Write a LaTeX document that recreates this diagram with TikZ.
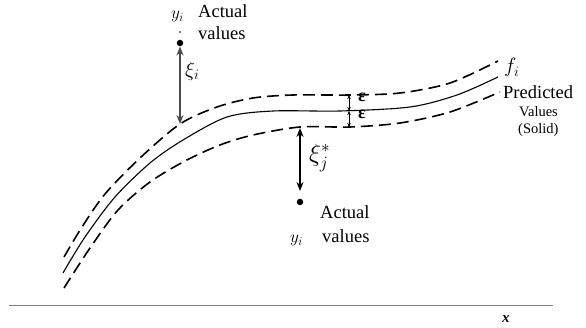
\documentclass[tikz,border=0pt]{standalone}
\usepackage{fontspec}
\setmainfont{Liberation Serif}
\usetikzlibrary{arrows.meta}
\begin{document}
\begin{tikzpicture}[x=1pt,y=-1pt,
  dashcurve/.style={line width=1.6pt, dash pattern=on 12pt off 6pt},
  solidcurve/.style={line width=1.1pt},
  dbl/.style={line width=1.4pt, {Stealth[length=9pt,width=7pt]}-{Stealth[length=9pt,width=7pt]}},
  smalldbl/.style={line width=0.9pt, {Stealth[length=4pt,width=3.5pt]}-{Stealth[length=4pt,width=3.5pt]}},
  dot/.style={circle, fill=black, inner sep=0pt, minimum size=6.5pt},
  lbl/.style={inner sep=0pt, font=\fontsize{18.5}{22}\selectfont},
  slbl/.style={inner sep=0pt, font=\fontsize{14.5}{16}\selectfont},
  epslbl/.style={inner sep=0pt, text height=0.45em, text depth=0pt, font=\fontsize{18}{18}\selectfont\bfseries},
]
\useasboundingbox (0,0) rectangle (586,328);

% curves
\draw[dashcurve] plot[smooth] coordinates {(64,257) (82,227) (105,194) (140,158) (180,124) (217,107) (253,98) (293,95) (350,95) (400,93) (450,83) (498,61)};
\draw[solidcurve] plot[smooth] coordinates {(63,273) (85,237) (115,197) (150,163) (183,140) (227,117) (273,111) (340,111) (410,107) (457,95) (498,77)};
\draw[dashcurve] plot[smooth] coordinates {(64,288) (90,248) (118,210) (150,182) (185,161) (220,145) (253,135) (300,127) (350,127) (400,123) (450,112) (500,92)};

% axis
\coordinate (axl) at (9,306);
\coordinate (axr) at (553,306);
\draw[gray, line width=1pt] (axl) -- (axr);
\node[inner sep=0pt, anchor=base west, font=\fontsize{15}{15}\selectfont\bfseries\itshape] (xl) at (502,323) {x};

% upper actual value
\node[dot] (d1) at (180,43) {};
\node[circle, fill=black, inner sep=0pt, minimum size=1.8pt] (tiny) at (180,32) {};
\coordinate (u1) at (180,124);
\draw[dbl, draw=black!70, fill=black] (d1) -- (u1);
\node[inner sep=0pt, anchor=base west, font=\fontsize{18}{18}\selectfont] (yi1) at (171,19) {$y_i$};
\node[lbl, anchor=base west] (act1) at (198,18) {Actual};
\node[lbl, anchor=base west] (val1) at (198,40) {values};
\node[inner sep=0pt, anchor=west, font=\fontsize{22}{22}\selectfont] (xi) at (185,71) {$\xi_i$};

% lower actual value
\node[dot] (d2) at (300,202) {};
\coordinate (l1) at (300,128);
\coordinate (l2) at (300,191);
\draw[dbl] (l1) -- (l2);
\node[inner sep=0pt, anchor=base west, font=\fontsize{18}{18}\selectfont] (yi2) at (290,243) {$y_i$};
\node[lbl, anchor=base west] (act2) at (320,219) {Actual};
\node[lbl, anchor=base west] (val2) at (322,243) {values};
\node[inner sep=0pt, anchor=west, font=\fontsize{25}{25}\selectfont] (xij) at (309,158) {$\xi_j^*$};

% epsilon tube
\coordinate (e1) at (349,95);
\coordinate (e2) at (349,111);
\coordinate (e3) at (349,127);
\draw[smalldbl] (e1) -- (e2);
\draw[smalldbl] (e2) -- (e3);
\node[epslbl] (eps1) at (362,99) {ε};
\node[epslbl] (eps2) at (362,116) {ε};

% right labels
\node[inner sep=0pt, anchor=base west, font=\fontsize{20}{20}\selectfont] (fi) at (504,73) {$f_i$};
\node[lbl, anchor=base west] (pred) at (503,99) {Predicted};
\node[slbl, anchor=base west] (valr) at (519,117) {Values};
\node[slbl, anchor=base west] (sol) at (518,134) {(Solid)};
\end{tikzpicture}
\end{document}
